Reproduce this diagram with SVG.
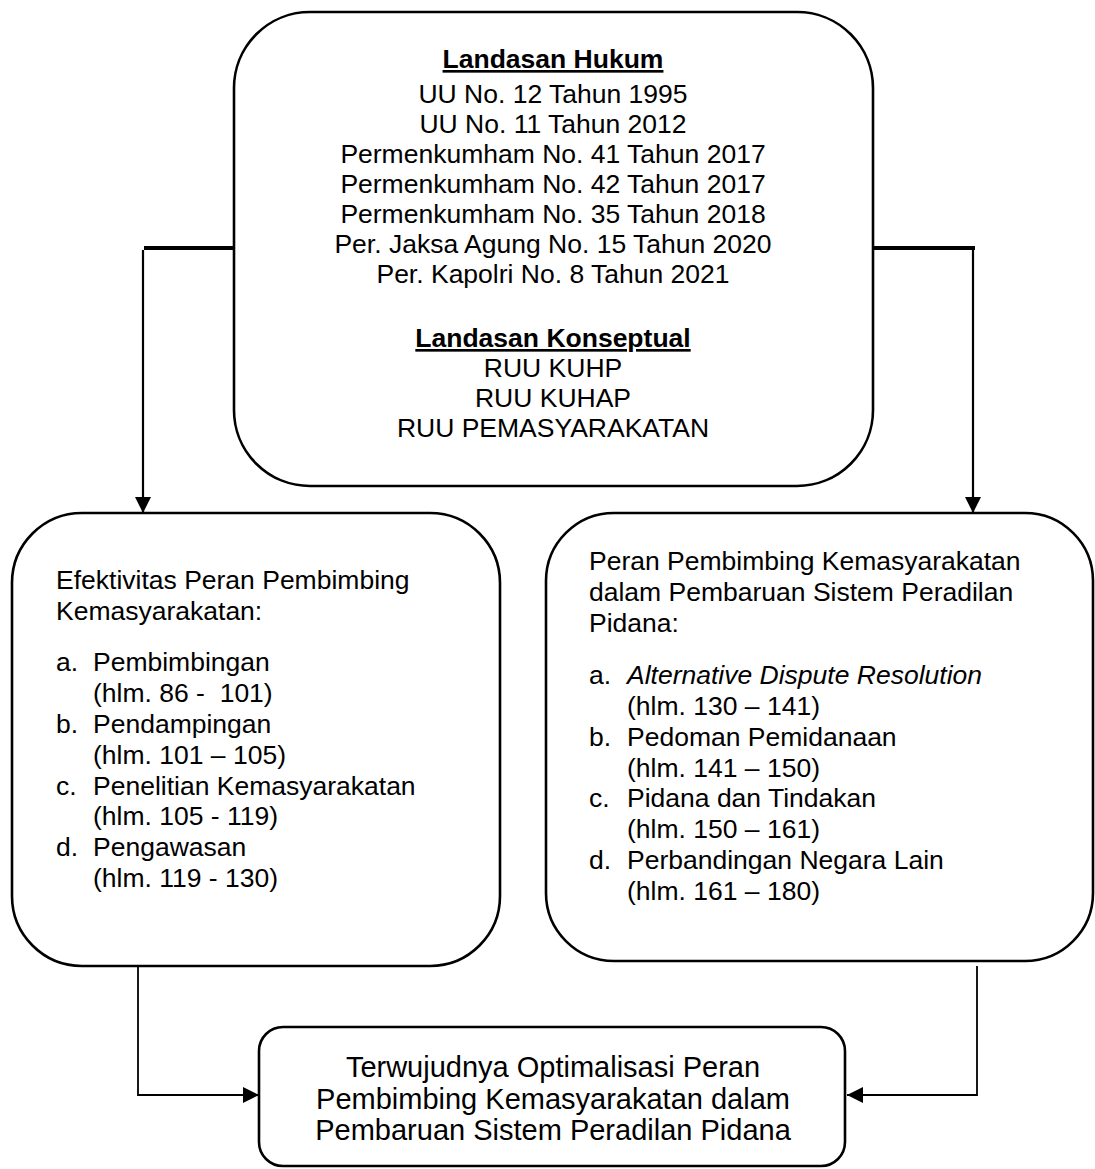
<svg xmlns="http://www.w3.org/2000/svg" width="1095" height="1169" viewBox="0 0 1095 1169">
<defs>
<style>
.box{fill:#fff;stroke:#000;stroke-width:2.6}
.t{font-family:"Liberation Sans",Arial,sans-serif;font-size:26.5px;fill:#000}
.c{text-anchor:middle}
.b{font-weight:bold;text-decoration:underline}
.big{font-size:29px}
.thick{stroke:#000;stroke-width:4;fill:none}
.thin{stroke:#000;stroke-width:2.2;fill:none}
.thin2{stroke:#000;stroke-width:1.8;fill:none}
</style>
<marker id="ah" viewBox="0 0 16 16" refX="16" refY="8" markerWidth="16" markerHeight="16" markerUnits="userSpaceOnUse" orient="auto">
<path d="M0,0 L16,8 L0,16 Z" fill="#000"/>
</marker>
</defs>
<rect width="1095" height="1169" fill="#fff"/>
<g id="connectors">
<line class="thick" x1="144" y1="248" x2="236" y2="248"/>
<line class="thin" x1="143" y1="250" x2="143" y2="513" marker-end="url(#ah)"/>
<line class="thick" x1="872" y1="248" x2="975" y2="248"/>
<line class="thin" x1="973" y1="250" x2="973" y2="513" marker-end="url(#ah)"/>
<polyline class="thin2" points="138,966 138,1095 259,1095" marker-end="url(#ah)"/>
<polyline class="thin2" points="977,966 977,1095 847,1095" marker-end="url(#ah)"/>
</g>
<g id="node-landasan">
<rect class="box" x="234" y="12" width="639" height="474" rx="76" ry="76"/>
<text class="t c b" x="553" y="68">Landasan Hukum</text>
<text class="t c" x="553" y="103">UU No. 12 Tahun 1995</text>
<text class="t c" x="553" y="133">UU No. 11 Tahun 2012</text>
<text class="t c" x="553" y="163">Permenkumham No. 41 Tahun 2017</text>
<text class="t c" x="553" y="193">Permenkumham No. 42 Tahun 2017</text>
<text class="t c" x="553" y="223">Permenkumham No. 35 Tahun 2018</text>
<text class="t c" x="553" y="253">Per. Jaksa Agung No. 15 Tahun 2020</text>
<text class="t c" x="553" y="283">Per. Kapolri No. 8 Tahun 2021</text>
<text class="t c b" x="553" y="347">Landasan Konseptual</text>
<text class="t c" x="553" y="377">RUU KUHP</text>
<text class="t c" x="553" y="407">RUU KUHAP</text>
<text class="t c" x="553" y="437">RUU PEMASYARAKATAN</text>
</g>
<g id="node-efektivitas">
<rect class="box" x="12" y="513" width="488" height="453" rx="70" ry="70"/>
<text class="t" x="56" y="589">Efektivitas Peran Pembimbing</text>
<text class="t" x="56" y="620">Kemasyarakatan:</text>
<text class="t" x="56" y="671">a.</text><text class="t" x="93" y="671">Pembimbingan</text>
<text class="t" x="93" y="702" xml:space="preserve">(hlm. 86 -  101)</text>
<text class="t" x="56" y="733">b.</text><text class="t" x="93" y="733">Pendampingan</text>
<text class="t" x="93" y="764">(hlm. 101 – 105)</text>
<text class="t" x="56" y="795">c.</text><text class="t" x="93" y="795">Penelitian Kemasyarakatan</text>
<text class="t" x="93" y="825">(hlm. 105 - 119)</text>
<text class="t" x="56" y="856">d.</text><text class="t" x="93" y="856">Pengawasan</text>
<text class="t" x="93" y="887">(hlm. 119 - 130)</text>
</g>
<g id="node-peran">
<rect class="box" x="546" y="513" width="547" height="448" rx="68" ry="68"/>
<text class="t" x="589" y="570">Peran Pembimbing Kemasyarakatan</text>
<text class="t" x="589" y="601">dalam Pembaruan Sistem Peradilan</text>
<text class="t" x="589" y="632">Pidana:</text>
<text class="t" x="589" y="684">a.</text><text class="t" x="627" y="684" font-style="italic">Alternative Dispute Resolution</text>
<text class="t" x="627" y="715">(hlm. 130 – 141)</text>
<text class="t" x="589" y="746">b.</text><text class="t" x="627" y="746">Pedoman Pemidanaan</text>
<text class="t" x="627" y="777">(hlm. 141 – 150)</text>
<text class="t" x="589" y="807">c.</text><text class="t" x="627" y="807">Pidana dan Tindakan</text>
<text class="t" x="627" y="838">(hlm. 150 – 161)</text>
<text class="t" x="589" y="869">d.</text><text class="t" x="627" y="869">Perbandingan Negara Lain</text>
<text class="t" x="627" y="900">(hlm. 161 – 180)</text>
</g>
<g id="node-optimalisasi">
<rect class="box" x="259" y="1027" width="586" height="139" rx="24" ry="24"/>
<text class="t c big" x="553" y="1077">Terwujudnya Optimalisasi Peran</text>
<text class="t c big" x="553" y="1109">Pembimbing Kemasyarakatan dalam</text>
<text class="t c big" x="553" y="1140">Pembaruan Sistem Peradilan Pidana</text>
</g>
</svg>
